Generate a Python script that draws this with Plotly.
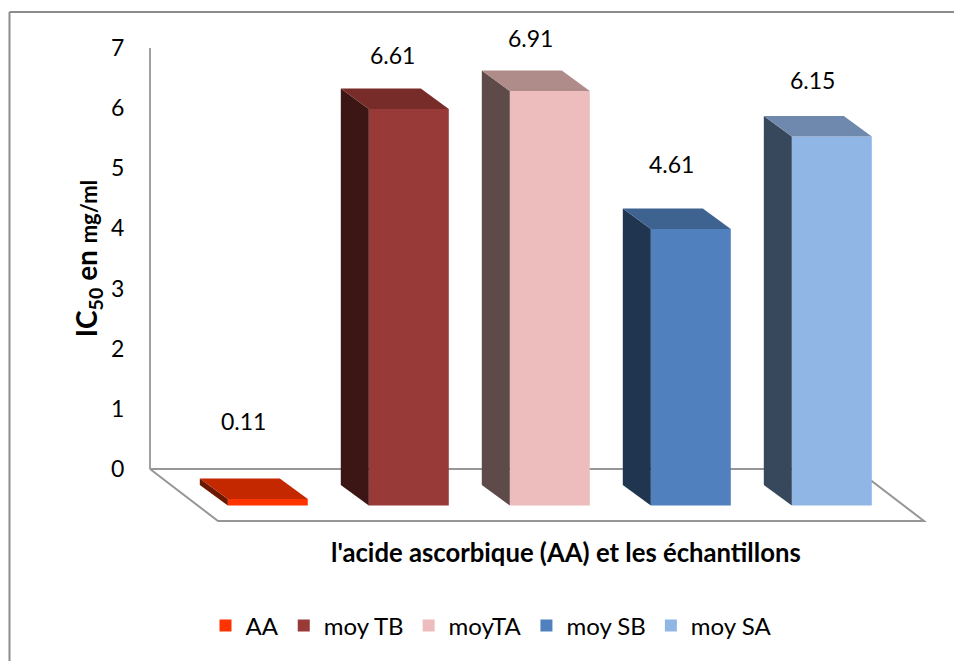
import plotly.graph_objects as go

categories = ["AA", "moy TB", "moyTA", "moy SB", "moy SA"]
values = [0.11, 6.61, 6.91, 4.61, 6.15]
front_colors = ["#FF3300", "#973A38", "#ECBDBC", "#5081BE", "#8FB6E5"]
top_colors = ["#C42800", "#772C2A", "#AF8C89", "#3F6390", "#6E89AD"]
side_colors = ["#6B1800", "#3C1614", "#5E4A48", "#1F3550", "#38485C"]
y_ticks = [0, 1, 2, 3, 4, 5, 6, 7]
label_shift_x = [-24, -16, -19, -19, -19]
label_shift_y = [78, 54, 53, 65, 57]

W, H = 954, 661
PX_X = 141.0      # pixels per category
PX_Y = 60.0       # pixels per value unit
X0_PX = 267.8     # pixel of first category centre
Y0_PX = 505.5     # pixel of value 0 on the front plane
BAR_W = 80 / PX_X
DX = 28 / PX_X    # depth offset of the bars
DY = 20.5 / PX_Y

xr = [(0 - X0_PX) / PX_X, (W - X0_PX) / PX_X]
yr = [-(H - Y0_PX) / PX_Y, Y0_PX / PX_Y]
FONT = "Lato"

fig = go.Figure()
for i, (c, v) in enumerate(zip(categories, values)):
    l, r = i - BAR_W / 2, i + BAR_W / 2
    fig.add_trace(go.Bar(x=[i], y=[v], width=BAR_W, name=c, marker=dict(color=front_colors[i], line_width=0)))
    fig.add_trace(go.Scatter(x=[l, l, l - DX, l - DX, l], y=[0, v, v + DY, DY, 0], mode="lines", fill="toself",
                             fillcolor=side_colors[i], line=dict(width=0), showlegend=False, hoverinfo="skip"))
    fig.add_trace(go.Scatter(x=[l, r, r - DX, l - DX, l], y=[v, v, v + DY, v + DY, v], mode="lines", fill="toself",
                             fillcolor=top_colors[i], line=dict(width=0), showlegend=False, hoverinfo="skip"))
    fig.add_annotation(x=i, y=v, text=f"{v:.2f}", showarrow=False, xshift=label_shift_x[i], yshift=label_shift_y[i],
                       font=dict(family=FONT, size=23, color="#000000"))

# invisible trace that carries the back-wall value axis
fig.add_trace(go.Scatter(x=[0], y=[0], yaxis="y2", mode="markers", marker=dict(opacity=0), showlegend=False, hoverinfo="skip"))

# floor of the 3-D box, drawn behind the bars
fx = lambda p: (p - X0_PX) / PX_X
fy = lambda p: (Y0_PX - p) / PX_Y
floor = [(150, 469), (218, 521), (924, 521), (856, 469), (150, 469)]
path = "M" + " L".join(f"{fx(a)},{fy(b)}" for a, b in floor)
fig.add_shape(type="path", path=path, xref="x", yref="y", layer="below", line=dict(color="#969696", width=2))

# chart-area border: left and top edges only
fig.add_shape(type="line", xref="paper", yref="paper", x0=9.5 / W, x1=9.5 / W, y0=0, y1=1 - 12 / H,
              layer="below", line=dict(color="#8C8C8C", width=2))
fig.add_shape(type="line", xref="paper", yref="paper", x0=9.5 / W, x1=1, y0=1 - 12 / H, y1=1 - 12 / H,
              layer="below", line=dict(color="#8C8C8C", width=2))

fig.add_annotation(x=565.5 / W, xref="paper", y=1 - 552 / H, yref="paper", yanchor="middle",
                   text="<b>l'acide ascorbique (AA) et les échantillons</b>",
                   showarrow=False, font=dict(family=FONT, size=25.7, color="#000000"))

fig.update_layout(
    width=W, height=H, margin=dict(l=0, r=0, t=0, b=0, autoexpand=False), autosize=False,
    paper_bgcolor="#FFFFFF", plot_bgcolor="rgba(0,0,0,0)",
    font=dict(family=FONT, size=24, color="#000000"),
    barmode="overlay",
    xaxis=dict(range=xr, domain=[0, 1], visible=False),
    yaxis=dict(range=yr, domain=[0, 1], visible=False),
    yaxis2=dict(
        domain=[(H - 469) / H, (H - 48) / H], range=[0, 7], anchor="free", position=150 / W,
        tickmode="array", tickvals=y_ticks, showgrid=False, zeroline=False, ticks="",
        showline=True, linecolor="#A0A0A0", linewidth=2, ticklabelstandoff=20,
        tickfont=dict(family=FONT, size=23, color="#000000"),
        title=dict(text="<b>IC<sub>50</sub> en <span style='font-size:22px'>mg/ml</span></b>", standoff=4,
                   font=dict(family=FONT, size=28, color="#000000")),
    ),
    legend=dict(orientation="h", xanchor="center", x=491 / W, yanchor="middle", y=1 - 626 / H,
                font=dict(family=FONT, size=24, color="#000000"), bgcolor="rgba(0,0,0,0)"),
    showlegend=True,
)

fig.write_html("out.html", config={"displayModeBar": False}, post_script="document.body.style.margin='0';")
